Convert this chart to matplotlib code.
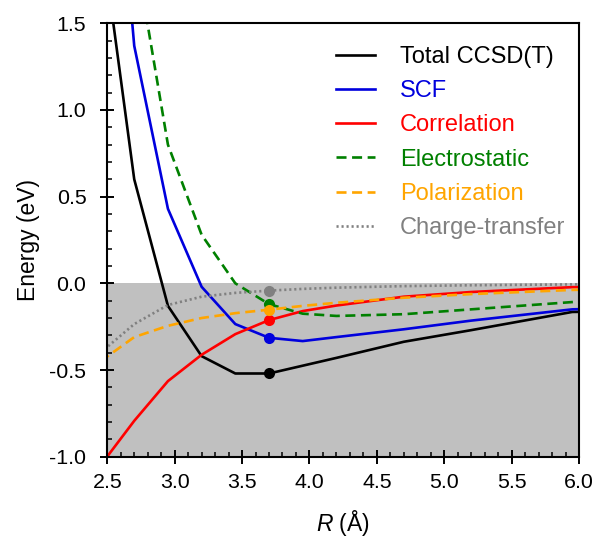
import matplotlib
matplotlib.use("Agg")
import matplotlib.pyplot as plt
from matplotlib.ticker import MultipleLocator, FormatStrFormatter

plt.rcParams['font.family'] = ['Liberation Sans', 'DejaVu Sans']
plt.rcParams['mathtext.fontset'] = 'custom'
plt.rcParams['mathtext.it'] = 'Liberation Sans:italic'
plt.rcParams['mathtext.rm'] = 'Liberation Sans'

R = [2.45, 2.7, 2.95, 3.2, 3.45, 3.7, 3.95, 4.2, 4.7, 5.2, 5.95, 6.45]
total = [2.05, 0.60, -0.13, -0.42, -0.52, -0.52, -0.475, -0.43, -0.337, -0.27, -0.165, -0.16]
scf = [3.6, 1.37, 0.43, -0.02, -0.235, -0.314, -0.333, -0.31, -0.265, -0.215, -0.15, -0.14]
corr = [-1.05, -0.793, -0.564, -0.412, -0.293, -0.212, -0.16, -0.128, -0.077, -0.05, -0.022, -0.015]
elec = [4.0, 1.95, 0.80, 0.28, 0.0, -0.12, -0.175, -0.188, -0.178, -0.15, -0.108, -0.09]
pol = [-0.45, -0.31, -0.245, -0.2, -0.172, -0.152, -0.13, -0.112, -0.083, -0.062, -0.038, -0.03]
ct = [-0.40, -0.235, -0.125, -0.077, -0.055, -0.042, -0.032, -0.025, -0.016, -0.011, -0.006, -0.004]
labels = ["Total CCSD(T)", "SCF", "Correlation", "Electrostatic", "Polarization", "Charge-transfer"]
R_mark = 3.7

fig = plt.figure(figsize=(5.96, 5.38), dpi=100)
ax = fig.add_axes([0.180, 0.1511, 0.9715 - 0.180, 0.9567 - 0.1511])

ax.axhspan(-1.0, 0.0, color='#c0c0c0', zorder=0, lw=0)

series = [
    (total, 'black', '-'),
    (scf, '#0000dd', '-'),
    (corr, '#ff0000', '-'),
    (elec, '#008000', (0, (3.8, 2.1))),
    (pol, '#ffa500', (0, (3.8, 2.1))),
    (ct, '#808080', (0, (0.8, 1.1))),
]
lw = 1.9
handles = []
for (y, c, ls), lab in zip(series, labels):
    h, = ax.plot(R, y, color=c, linestyle=ls, lw=lw, label=lab, zorder=2)
    handles.append(h)

for i, (y, c, ls) in enumerate(series):
    ax.plot([R_mark], [y[R.index(R_mark)]], 'o', color=c, ms=8, mew=0, zorder=3 + i)

ax.set_xlim(2.5, 6.0)
ax.set_ylim(-1.0, 1.5)
ax.xaxis.set_major_locator(MultipleLocator(0.5))
ax.xaxis.set_minor_locator(MultipleLocator(0.1))
ax.yaxis.set_major_locator(MultipleLocator(0.5))
ax.yaxis.set_minor_locator(MultipleLocator(0.1))
ax.xaxis.set_major_formatter(FormatStrFormatter('%.1f'))
ax.yaxis.set_major_formatter(FormatStrFormatter('%.1f'))

ax.tick_params(which='major', direction='inout', length=10, width=1.4, labelsize=15.4, colors='black')
ax.tick_params(axis='x', which='major', pad=6.5)
ax.tick_params(axis='y', which='major', pad=10)
ax.tick_params(which='minor', direction='in', length=3.7, width=1.1)
ax.tick_params(top=False, right=False, which='both')
for s in ax.spines.values():
    s.set_linewidth(1.5)

ax.set_xlabel(r"$\it{R}$ (Å)", fontsize=16.5, labelpad=12)
ax.set_ylabel("Energy (eV)", fontsize=16.5, labelpad=7)

leg = ax.legend(handles=handles, loc='upper left', frameon=False, fontsize=17,
                handlelength=1.65, handletextpad=1.06, labelspacing=0.52,
                borderpad=0, borderaxespad=0,
                bbox_to_anchor=(0.485, 0.948), labelcolor='linecolor')

fig.savefig("out.png", dpi=100)
